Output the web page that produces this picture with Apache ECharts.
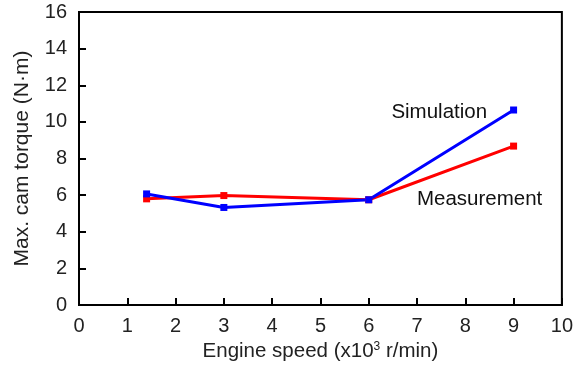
<!DOCTYPE html>
<html>
<head>
<meta charset="utf-8">
<script src="https://cdn.jsdelivr.net/npm/echarts@6/dist/echarts.min.js"></script>
<style>
  html, body { margin: 0; padding: 0; background: #fff; }
  #chart { width: 576px; height: 367px; }
</style>
</head>
<body>
<div id="chart"></div>
<script>
// engine speed (x10^3 r/min)
const speeds = [1.4, 3, 6, 9];
const simulation = [6.07, 5.33, 5.75, 10.65];
const measurement = [5.8, 5.98, 5.75, 8.68];

const font = 'Liberation Sans, Arial, sans-serif';

const chart = echarts.init(document.getElementById('chart'));

function pairs(ys) {
    return speeds.map(function(x, i) { return [x, ys[i]]; });
}

chart.setOption({
    animation: false,
    grid: {
        left: 79, right: 11, top: 12, bottom: 60,
        show: true, borderColor: '#000', borderWidth: 2, backgroundColor: 'transparent'
    },
    xAxis: {
        type: 'value', min: 0, max: 10, interval: 1,
        axisLine: { lineStyle: { color: '#000', width: 2 } },
        axisTick: { inside: true, length: 7, lineStyle: { color: '#000', width: 2 } },
        axisLabel: { color: '#222', fontSize: 20, fontFamily: font, margin: 11 },
        splitLine: { show: false },
        name: '{a|Engine speed (x10}{s|3}{a| r/min)}',
        nameLocation: 'middle',
        nameGap: 31,
        nameTextStyle: {
            rich: {
                a: { fontSize: 20.5, fontFamily: font, color: '#222' },
                s: { fontSize: 12, fontFamily: font, color: '#222', verticalAlign: 'top', padding: [0, 0, 9, 0] }
            }
        }
    },
    yAxis: {
        type: 'value', min: 0, max: 16, interval: 2,
        axisLine: { show: true, lineStyle: { color: '#000', width: 2 } },
        axisTick: { show: true, inside: true, length: 7, lineStyle: { color: '#000', width: 2 } },
        axisLabel: { color: '#222', fontSize: 20, fontFamily: font, margin: 12 },
        splitLine: { show: false },
        name: 'Max. cam torque (N·m)',
        nameLocation: 'middle',
        nameGap: 46,
        nameTextStyle: { fontSize: 21, fontFamily: font, color: '#222' }
    },
    series: [
        {
            name: 'Measurement', type: 'line', data: pairs(measurement),
            symbol: 'rect', symbolSize: 7,
            lineStyle: { color: '#ff0000', width: 3 },
            itemStyle: { color: '#ff0000' },
            label: {
                show: true, position: 'bottom', offset: [-34, 34],
                formatter: function(p) { return p.dataIndex === 3 ? 'Measurement' : ''; },
                color: '#111', fontSize: 20.5, fontFamily: font
            }
        },
        {
            name: 'Simulation', type: 'line', data: pairs(simulation),
            symbol: 'rect', symbolSize: 7,
            lineStyle: { color: '#0000ff', width: 3 },
            itemStyle: { color: '#0000ff' },
            label: {
                show: true, position: 'left', offset: [-18, 2],
                formatter: function(p) { return p.dataIndex === 3 ? 'Simulation' : ''; },
                color: '#111', fontSize: 20.5, fontFamily: font
            }
        }
    ]
});
</script>
</body>
</html>
